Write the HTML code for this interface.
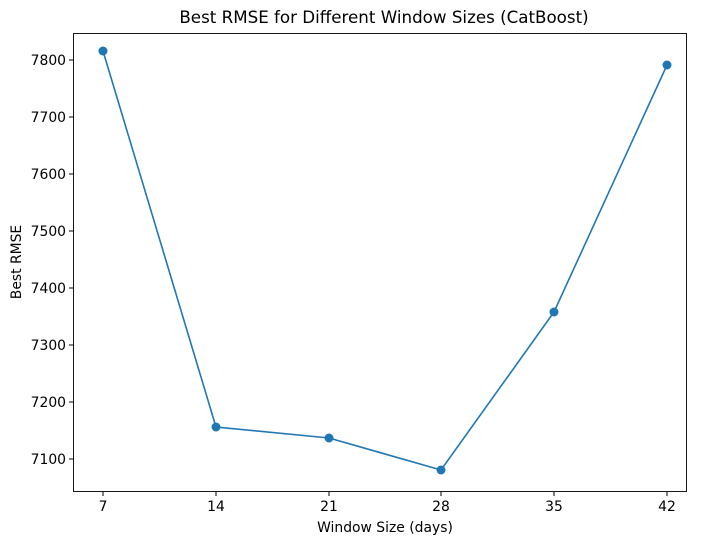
<!DOCTYPE html>
<html><head><style>body{margin:0;background:#fff}</style></head><body>
<svg width="704" height="545" xmlns="http://www.w3.org/2000/svg" font-family="DejaVu Sans, Liberation Sans, sans-serif">
<rect width="704" height="545" fill="#fff"/>
<rect x="73.5" y="33.5" width="613" height="458" fill="none" stroke="#000" stroke-width="0.9"/>
<g font-size="13.9" text-anchor="end" fill="#000">
<line x1="69" y1="60" x2="73" y2="60" stroke="#000"/><text x="66" y="65">7800</text>
<line x1="69" y1="117" x2="73" y2="117" stroke="#000"/><text x="66" y="122">7700</text>
<line x1="69" y1="174" x2="73" y2="174" stroke="#000"/><text x="66" y="179">7600</text>
<line x1="69" y1="231" x2="73" y2="231" stroke="#000"/><text x="66" y="236">7500</text>
<line x1="69" y1="288" x2="73" y2="288" stroke="#000"/><text x="66" y="293">7400</text>
<line x1="69" y1="345" x2="73" y2="345" stroke="#000"/><text x="66" y="350">7300</text>
<line x1="69" y1="402" x2="73" y2="402" stroke="#000"/><text x="66" y="407">7200</text>
<line x1="69" y1="459" x2="73" y2="459" stroke="#000"/><text x="66" y="464">7100</text>
</g>
<g font-size="13.9" text-anchor="middle" fill="#000">
<line x1="103" y1="492" x2="103" y2="496" stroke="#000"/><text x="103" y="511">7</text>
<line x1="216" y1="492" x2="216" y2="496" stroke="#000"/><text x="216" y="511">14</text>
<line x1="329" y1="492" x2="329" y2="496" stroke="#000"/><text x="329" y="511">21</text>
<line x1="441" y1="492" x2="441" y2="496" stroke="#000"/><text x="441" y="511">28</text>
<line x1="554" y1="492" x2="554" y2="496" stroke="#000"/><text x="554" y="511">35</text>
<line x1="667" y1="492" x2="667" y2="496" stroke="#000"/><text x="667" y="511">42</text>
<text x="385" y="532">Window Size (days)</text>
<text x="384" y="23" font-size="16.7">Best RMSE for Different Window Sizes (CatBoost)</text>
</g>
<text transform="translate(21,262) rotate(-90)" font-size="13.9" text-anchor="middle">Best RMSE</text>
<polyline points="103,51 216,427 329,438 441,470 554,312 667,65" fill="none" stroke="#1f77b4" stroke-width="1.6"/>
<g fill="#1f77b4">
<circle cx="103" cy="51" r="4.5"/><circle cx="216" cy="427" r="4.5"/><circle cx="329" cy="438" r="4.5"/>
<circle cx="441" cy="470" r="4.5"/><circle cx="554" cy="312" r="4.5"/><circle cx="667" cy="65" r="4.5"/>
</g>
</svg>
</body></html>
